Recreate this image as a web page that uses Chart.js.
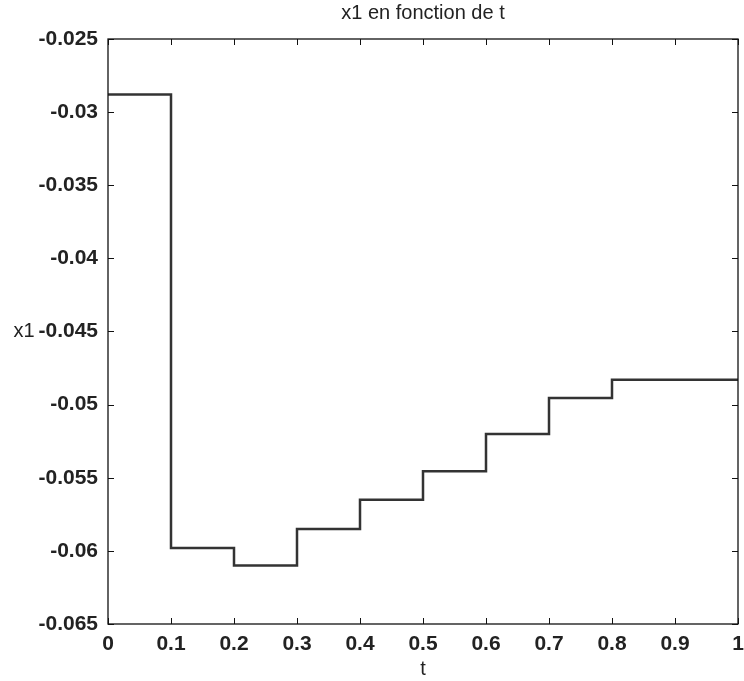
<!DOCTYPE html>
<html>
<head>
<meta charset="utf-8">
<script src="https://cdn.jsdelivr.net/npm/chart.js@4/dist/chart.umd.min.js"></script>
<style>
  html, body { margin: 0; padding: 0; background: #fff; }
  #wrap { width: 744px; height: 681px; }
</style>
</head>
<body>
<div id="wrap"><canvas id="myChart" width="744" height="681"></canvas></div>
<script>
// step values of x1, one per interval start
const tSteps = [0, 0.1, 0.2, 0.3, 0.4, 0.5, 0.6, 0.7, 0.8, 1];
const x1Values = [-0.0288, -0.0598, -0.0610, -0.0585, -0.0565, -0.05455, -0.0520, -0.04955, -0.0483, -0.0483];
const xTicks = [0, 0.1, 0.2, 0.3, 0.4, 0.5, 0.6, 0.7, 0.8, 0.9, 1];
const yTicks = [-0.065, -0.06, -0.055, -0.05, -0.045, -0.04, -0.035, -0.03, -0.025];

const points = tSteps.map((t, i) => ({ x: t, y: x1Values[i] }));
const fmt = (v) => String(Number(v.toFixed(3)));

const matlabBox = {
  id: "matlabBox",
  afterDraw(chart) {
    const ctx = chart.ctx;
    const a = chart.chartArea;
    const xs = chart.scales.x;
    const ys = chart.scales.y;
    const tl = 6;
    ctx.save();
    ctx.strokeStyle = "#111";
    ctx.lineWidth = 1.3;
    ctx.strokeRect(a.left, a.top, a.right - a.left, a.bottom - a.top);
    ctx.lineWidth = 1;
    ctx.beginPath();
    xTicks.forEach((v) => {
      const px = Math.round(xs.getPixelForValue(v)) + 0.5;
      ctx.moveTo(px, a.bottom); ctx.lineTo(px, a.bottom - tl);
      ctx.moveTo(px, a.top); ctx.lineTo(px, a.top + tl);
    });
    yTicks.forEach((v) => {
      const py = Math.round(ys.getPixelForValue(v)) + 0.5;
      ctx.moveTo(a.left, py); ctx.lineTo(a.left + tl, py);
      ctx.moveTo(a.right, py); ctx.lineTo(a.right - tl, py);
    });
    ctx.stroke();

    ctx.fillStyle = "#222";
    ctx.font = "20px 'Liberation Sans', Arial, sans-serif";
    ctx.textAlign = "center";
    ctx.textBaseline = "middle";
    ctx.fillText("x1 en fonction de t", (a.left + a.right) / 2, 13);
    ctx.fillText("x1", 24, ys.getPixelForValue(-0.045));
    ctx.restore();
  },
};

const myChart = new Chart(document.getElementById("myChart"), {
  type: "line",
  data: {
    datasets: [
      {
        label: "x1",
        data: points,
        stepped: "before",
        borderColor: "#333",
        borderWidth: 2.5,
        pointRadius: 0,
        fill: false,
      },
    ],
  },
  options: {
    responsive: false,
    animation: false,
    layout: { padding: { left: 0, right: 6, top: 39, bottom: 0 } },
    plugins: {
      legend: { display: false },
      title: { display: false },
      tooltip: { enabled: false },
    },
    scales: {
      x: {
        type: "linear",
        min: 0,
        max: 1,
        afterBuildTicks: (scale) => { scale.ticks = xTicks.map((v) => ({ value: v })); },
        afterFit: (scale) => { scale.height = 57; },
        grid: { display: false },
        border: { display: false },
        ticks: {
          color: "#222",
          padding: 0,
          maxRotation: 0,
          font: { family: "'Liberation Sans', Arial, sans-serif", size: 21, weight: "bold" },
          callback: (v) => fmt(v),
        },
        title: {
          display: true,
          text: "t",
          color: "#222",
          padding: { top: 0, bottom: 0 },
          font: { family: "'Liberation Sans', Arial, sans-serif", size: 20 },
        },
      },
      y: {
        min: -0.065,
        max: -0.025,
        afterBuildTicks: (scale) => { scale.ticks = yTicks.map((v) => ({ value: v })); },
        afterFit: (scale) => { scale.width = 108; },
        grid: { display: false },
        border: { display: false },
        ticks: {
          color: "#222",
          padding: 2,
          font: { family: "'Liberation Sans', Arial, sans-serif", size: 21, weight: "bold" },
          callback: (v) => fmt(v),
        },
      },
    },
  },
  plugins: [matlabBox],
});
</script>
</body>
</html>
